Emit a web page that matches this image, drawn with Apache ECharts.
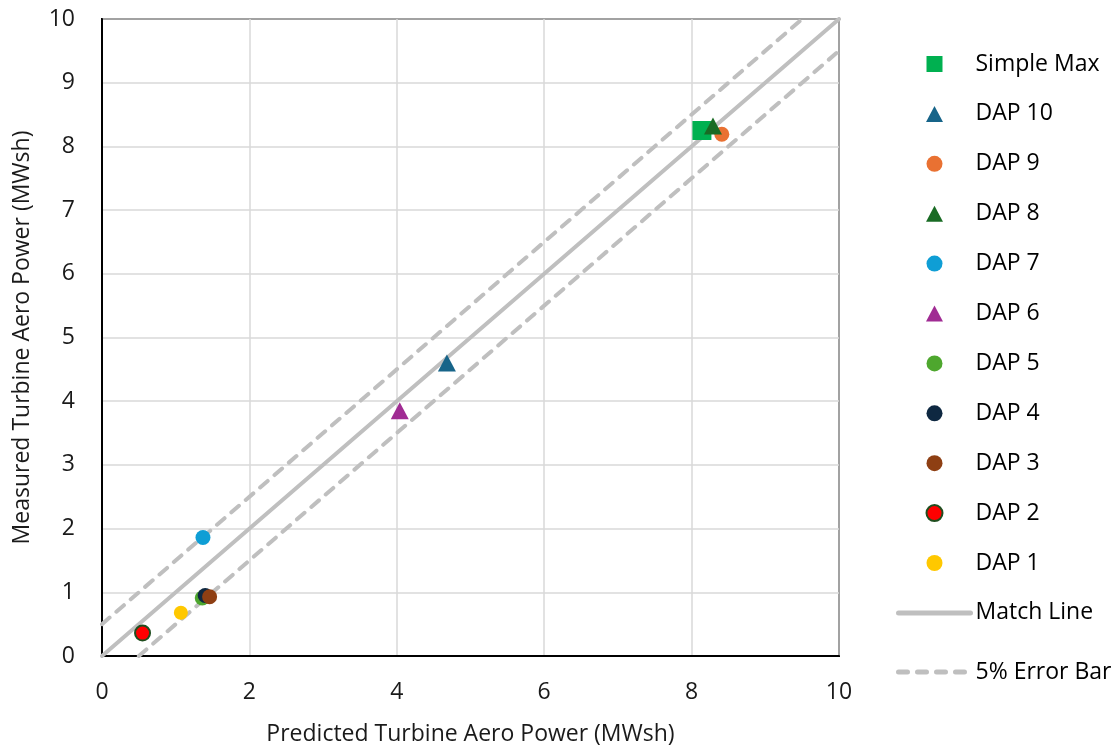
<!DOCTYPE html>
<html><head><meta charset="utf-8">
<script src="https://cdn.jsdelivr.net/npm/echarts@6/dist/echarts.min.js"></script>
<style>html,body{margin:0;padding:0;background:#fff}#c{width:1118px;height:751px}</style>
</head><body><div id="c"></div>
<script>
// Data (predicted, measured) in MWsh
const simpleMax = [[8.14, 8.25]];
const dap10 = [[4.68, 4.60]];
const dap9 = [[8.41, 8.19]];
const dap8 = [[8.29, 8.32]];
const dap7 = [[1.37, 1.86]];
const dap6 = [[4.04, 3.85]];
const dap5 = [[1.36, 0.91]];
const dap4 = [[1.40, 0.95]];
const dap3 = [[1.46, 0.93]];
const dap2 = [[0.55, 0.36]];
const dap1 = [[1.07, 0.68]];
const matchLine = [[0, 0], [10, 10]];
const errUpper = [[0, 0.5], [9.5, 10]];
const errLower = [[0.5, 0], [10, 9.5]];
const legendNames = ['Simple Max','DAP 10','DAP 9','DAP 8','DAP 7','DAP 6','DAP 5','DAP 4','DAP 3','DAP 2','DAP 1','Match Line'];
const legendNames2 = ['5% Error Bar'];

const FONT = 'Open Sans';
const TXT = '#1a1a1a';
const FS = 23;
const SQ = 'path://M0,0L16,0L16,16L0,16Z';
const TRI = 'path://M9,0L18,17L0,17Z';
const legendIcon = {
  'Simple Max': SQ, 'DAP 10': TRI, 'DAP 8': TRI, 'DAP 6': TRI
};
function sc(name, data, symbol, size, color, extra) {
  return Object.assign({
    type: 'scatter', name, data, symbol, symbolSize: size, z: 5,
    itemStyle: { color, opacity: 1 }
  }, extra || {});
}
function legendItem(n) {
  if (legendIcon[n]) return { name: n, icon: legendIcon[n] };
  if (n === 'Match Line')
    return { name: n, itemStyle: { color: 'rgba(0,0,0,0)', borderWidth: 0, opacity: 0 },
             lineStyle: { width: 5, cap: 'round', color: '#BFBFBF', type: 'solid' } };
  if (n === '5% Error Bar')
    return { name: n, itemStyle: { color: 'rgba(0,0,0,0)', borderWidth: 0, opacity: 0 },
             lineStyle: { width: 5, cap: 'round', color: '#BFBFBF', type: [9, 10] } };
  return { name: n, icon: 'circle' };
}
const legendBase = {
  orient: 'vertical', left: 896, padding: 0,
  itemWidth: 72, itemHeight: 16, itemGap: 26.9,
  symbolKeepAspect: true,
  textStyle: { fontSize: FS, color: '#000', fontFamily: FONT, padding: [0, 0, 0, 0] }
};
const chart = echarts.init(document.getElementById('c'), null, { renderer: 'canvas' });
chart.setOption({
  animation: false,
  backgroundColor: '#fff',
  textStyle: { fontFamily: FONT },
  grid: { left: 102, right: 279, top: 19, bottom: 95, containLabel: false, show: true, borderColor: '#000', borderWidth: 2 },
  xAxis: {
    type: 'value', min: 0, max: 10, interval: 2,
    name: 'Predicted Turbine Aero Power (MWsh)', nameLocation: 'middle', nameGap: 67,
    nameTextStyle: { fontSize: FS, color: TXT, fontFamily: FONT },
    axisLine: { show: true, lineStyle: { color: '#000', width: 2 } },
    axisTick: { show: false },
    axisLabel: { fontSize: FS, color: TXT, margin: 25, fontFamily: FONT },
    splitLine: { show: true, lineStyle: { color: '#d9d9d9', width: 1.5 } }
  },
  yAxis: {
    type: 'value', min: 0, max: 10, interval: 1,
    name: 'Measured Turbine Aero Power (MWsh)', nameLocation: 'middle', nameGap: 68,
    nameTextStyle: { fontSize: FS, color: TXT, fontFamily: FONT },
    axisLine: { show: true, lineStyle: { color: '#000', width: 2 } },
    axisTick: { show: false },
    axisLabel: { fontSize: FS, color: TXT, margin: 27, fontFamily: FONT },
    splitLine: { show: true, lineStyle: { color: '#d9d9d9', width: 1.5 } }
  },
  legend: [
    Object.assign({}, legendBase, { top: 52.5, data: legendNames.map(legendItem) }),
    Object.assign({}, legendBase, { top: 660.5, data: legendNames2.map(legendItem) })
  ],
  series: [
    sc('Simple Max', simpleMax, 'rect', 19, '#00B050'),
    sc('DAP 10', dap10, 'triangle', [18, 17], '#176489'),
    sc('DAP 9', dap9, 'circle', 15, '#E97132'),
    sc('DAP 8', dap8, 'triangle', [18, 17], '#196B24'),
    sc('DAP 7', dap7, 'circle', 15, '#0F9ED5'),
    sc('DAP 6', dap6, 'triangle', [18, 17], '#A02B93'),
    sc('DAP 5', dap5, 'circle', 15, '#4EA72E'),
    sc('DAP 4', dap4, 'circle', 15, '#0E2841'),
    sc('DAP 3', dap3, 'circle', 15, '#8E3F13'),
    sc('DAP 2', dap2, 'circle', 15, '#FF0000', { itemStyle: { color: '#FF0000', opacity: 1, borderColor: '#1F4E1F', borderWidth: 2 } }),
    sc('DAP 1', dap1, 'circle', 14, '#FFC800'),
    { type: 'line', name: 'Match Line', data: matchLine, symbol: 'none', z: 2,
      itemStyle: { color: '#BFBFBF' },
      lineStyle: { color: '#BFBFBF', width: 4, cap: 'round' } },
    { type: 'line', name: '5% Error Bar', data: errUpper, symbol: 'none', z: 2,
      itemStyle: { color: '#BFBFBF' },
      lineStyle: { color: '#BFBFBF', width: 4, type: [10, 9], cap: 'round' } },
    { type: 'line', name: '5% Error Bar', data: errLower, symbol: 'none', z: 2,
      itemStyle: { color: '#BFBFBF' },
      lineStyle: { color: '#BFBFBF', width: 4, type: [10, 9], cap: 'round' } }
  ]
});
</script></body></html>
